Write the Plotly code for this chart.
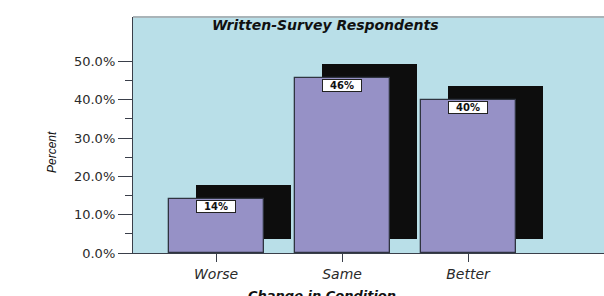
import plotly.graph_objects as go

categories = ["Worse", "Same", "Better"]
percent_values = [14.1, 45.6, 40.0]
bar_labels = ["14%", "46%", "40%"]
y_tick_values = [0, 10, 20, 30, 40, 50]
y_tick_labels = ["0.0%", "10.0%", "20.0%", "30.0%", "40.0%", "50.0%"]

title_text = "Written-Survey Respondents"
x_title = "Change in Condition"
y_title = "Percent"

# style constants
BAR_W = 0.754
SHADOW_DX = 0.214   # category units
SHADOW_DY = 3.65    # percent units
BAR_FILL = "#9691c6"
BG = "#b9dfe8"
AX = "#3a3f4a"
FONT = "DejaVu Sans"

x_idx = list(range(len(categories)))

fig = go.Figure()
# drop shadows
fig.add_trace(go.Bar(
    x=x_idx, y=percent_values, base=[SHADOW_DY] * len(categories),
    width=BAR_W, offset=-BAR_W / 2 + SHADOW_DX,
    marker=dict(color="#0d0d0d", line=dict(width=0)),
    hoverinfo="skip", showlegend=False,
))
# main bars
fig.add_trace(go.Bar(
    x=x_idx, y=percent_values, width=BAR_W, offset=-BAR_W / 2,
    marker=dict(color=BAR_FILL, line=dict(color="#2f3440", width=1.3)),
    showlegend=False,
))

for xi, v, lab in zip(x_idx, percent_values, bar_labels):
    fig.add_annotation(
        x=xi, y=v, xref="x", yref="y", text="<b>\u00a0\u00a0" + lab + "\u00a0\u00a0</b>",
        showarrow=False, yanchor="top", yshift=-1,
        font=dict(family=FONT, size=10, color="#111"),
        bgcolor="white", bordercolor="#222", borderwidth=1, borderpad=0,
    )

fig.add_annotation(
    x=(325 - 133) / 471, y=1, xref="paper", yref="paper", yanchor="top", yshift=2,
    text="<b><i>" + title_text + "</i></b>", showarrow=False,
    font=dict(family=FONT, size=14, color="#111"),
)
fig.add_annotation(
    x=(322 - 133) / 471, y=(253 - 295) / 236, xref="paper", yref="paper",
    yanchor="middle", text="<b><i>" + x_title + "</i></b>", showarrow=False,
    font=dict(family=FONT, size=13, color="#111"),
)
fig.add_annotation(
    x=(43 - 133) / 471, y=(253 - 152) / 236, xref="paper", yref="paper",
    text="<i>" + y_title + "</i>", textangle=-90, showarrow=False,
    font=dict(family="Liberation Sans", size=12, color="#111"),
)

fig.update_layout(
    width=604, height=296,
    margin=dict(l=133, r=0, t=17, b=43),
    paper_bgcolor="white", plot_bgcolor=BG,
    barmode="overlay", bargap=0,
    xaxis=dict(
        range=[-0.659, 3.079], tickvals=x_idx, ticktext=categories,
        ticks="outside", ticklen=8, tickcolor=AX, tickwidth=1,
        showline=True, linecolor=AX, linewidth=1.3, showgrid=False, zeroline=False,
        tickfont=dict(family=FONT, size=14, color="#2a2a2a", style="italic"),
        mirror=False,
    ),
    yaxis=dict(
        range=[0, 61.6], tickvals=y_tick_values, ticktext=y_tick_labels,
        ticks="outside", ticklen=14, tickcolor=AX, tickwidth=1,
        minor=dict(tickvals=[5, 15, 25, 35, 45], ticks="outside", ticklen=7, tickcolor=AX),
        showline=True, linecolor=AX, linewidth=1.3, showgrid=False, zeroline=False,
        tickfont=dict(family=FONT, size=13, color="#2a2a2a"),
    ),
    shapes=[dict(type="line", xref="paper", yref="paper", x0=0, x1=1, y0=1, y1=1,
                 line=dict(color="#a9b4b8", width=2))],
)

fig.write_html(
    "out.html",
    config={"displayModeBar": False},
    post_script="document.body.style.margin='0';document.body.style.overflow='hidden';",
)
